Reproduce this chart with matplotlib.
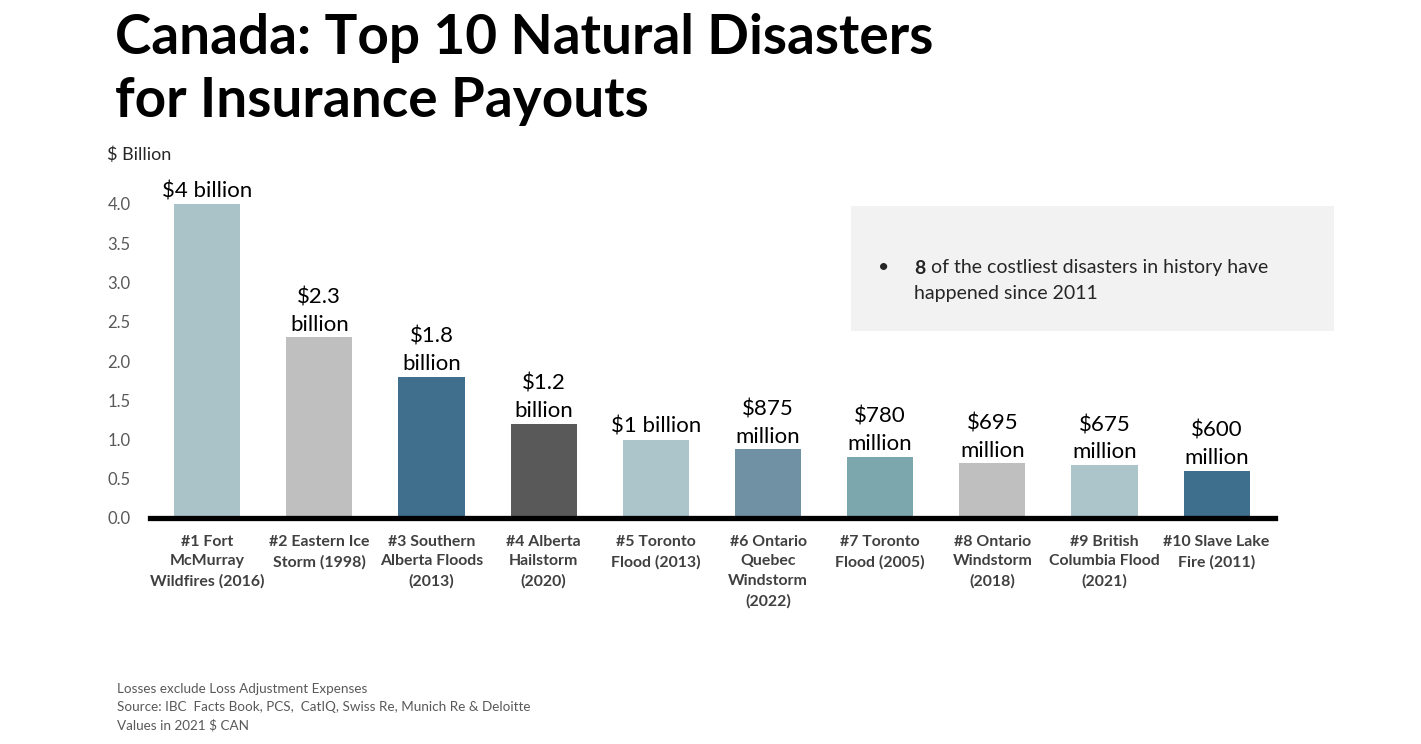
import matplotlib
matplotlib.use("Agg")
import matplotlib.pyplot as plt
from matplotlib.patches import Rectangle

plt.rcParams['font.family'] = ['Lato', 'DejaVu Sans']

categories = ["#1 Fort\nMcMurray\nWildfires (2016)", "#2 Eastern Ice\nStorm (1998)",
              "#3 Southern\nAlberta Floods\n(2013)", "#4 Alberta\nHailstorm\n(2020)",
              "#5 Toronto\nFlood (2013)", "#6 Ontario\nQuebec\nWindstorm\n(2022)",
              "#7 Toronto\nFlood (2005)", "#8 Ontario\nWindstorm\n(2018)",
              "#9 British\nColumbia Flood\n(2021)", "#10 Slave Lake\nFire (2011)"]
values = [4.0, 2.3, 1.8, 1.2, 1.0, 0.875, 0.78, 0.695, 0.675, 0.6]
value_labels = ["$4 billion", "$2.3\nbillion", "$1.8\nbillion", "$1.2\nbillion", "$1 billion",
                "$875\nmillion", "$780\nmillion", "$695\nmillion", "$675\nmillion", "$600\nmillion"]
colors = ["#a9c3c9", "#bfbfbf", "#3f6f8d", "#595959", "#abc5cb",
          "#7090a4", "#7ca7ad", "#bfbfbf", "#abc5cb", "#3e6f8d"]
yticks = [0.0, 0.5, 1.0, 1.5, 2.0, 2.5, 3.0, 3.5, 4.0]

W, H = 1421, 744
fig = plt.figure(figsize=(W/100, H/100), dpi=100)
ax = fig.add_axes([150/W, (H-518)/H, (1275-150)/W, (518-204)/H])

x = list(range(len(values)))
ax.bar(x, values, width=0.59, color=colors, zorder=2)
ax.set_xlim(-0.51, 9.52)
ax.set_ylim(0, 4.0)
ax.set_yticks(yticks)
ax.set_yticklabels([f"{v:.1f}" for v in yticks], fontsize=12, color="#595959")
ax.tick_params(axis='y', length=0, pad=14)
ax.set_xticks(x)
ax.set_xticklabels(categories, fontsize=11.4, fontweight='bold', color="#404040", linespacing=1.52)
ax.tick_params(axis='x', length=0, pad=12)
for s in ['top', 'right', 'left']:
    ax.spines[s].set_visible(False)
ax.spines['bottom'].set_linewidth(3.8)
ax.spines['bottom'].set_color('black')

for xi, v, lab in zip(x, values, value_labels):
    ax.annotate(lab, (xi, v), xytext=(0, 2), textcoords='offset points',
                ha='center', va='bottom', fontsize=16, color='black',
                linespacing=1.45, annotation_clip=False)

fig.text(115/W, 1-38/H, "Canada: Top 10 Natural Disasters", fontsize=39.5, fontweight='bold',
         va='center', ha='left', color='black')
fig.text(115/W, 1-101/H, "for Insurance Payouts", fontsize=39.5, fontweight='bold',
         va='center', ha='left', color='black')
fig.text(107/W, 1-155/H, "$ Billion", fontsize=13, va='center', ha='left', color='#262626')

fig.patches.append(Rectangle((851/W, 1-331/H), (1334-851)/W, (331-206)/H,
                             transform=fig.transFigure, facecolor='#f2f2f2', edgecolor='none'))
fig.text(884/W, 1-268/H, "•", fontsize=14, va='center', ha='center', color='#262626')
t8 = fig.text(914/W, 1-268/H, "8", fontsize=14, fontweight='bold', va='center', ha='left', color='#262626')
fig.canvas.draw()
bb = t8.get_window_extent()
fig.text(bb.x1 / W + 6/W, 1-268/H, "of the costliest disasters in history have", fontsize=14,
         va='center', ha='left', color='#262626')
fig.text(914/W, 1-293/H, "happened since 2011", fontsize=14, va='center', ha='left', color='#262626')

foot = ["Losses exclude Loss Adjustment Expenses",
        "Source: IBC  Facts Book, PCS,  CatIQ, Swiss Re, Munich Re & Deloitte",
        "Values in 2021 $ CAN"]
for i, t in enumerate(foot):
    fig.text(117/W, 1-(689+18*i)/H, t, fontsize=9.7, va='center', ha='left', color='#595959')

fig.savefig("out.png", dpi=100, facecolor='white')
